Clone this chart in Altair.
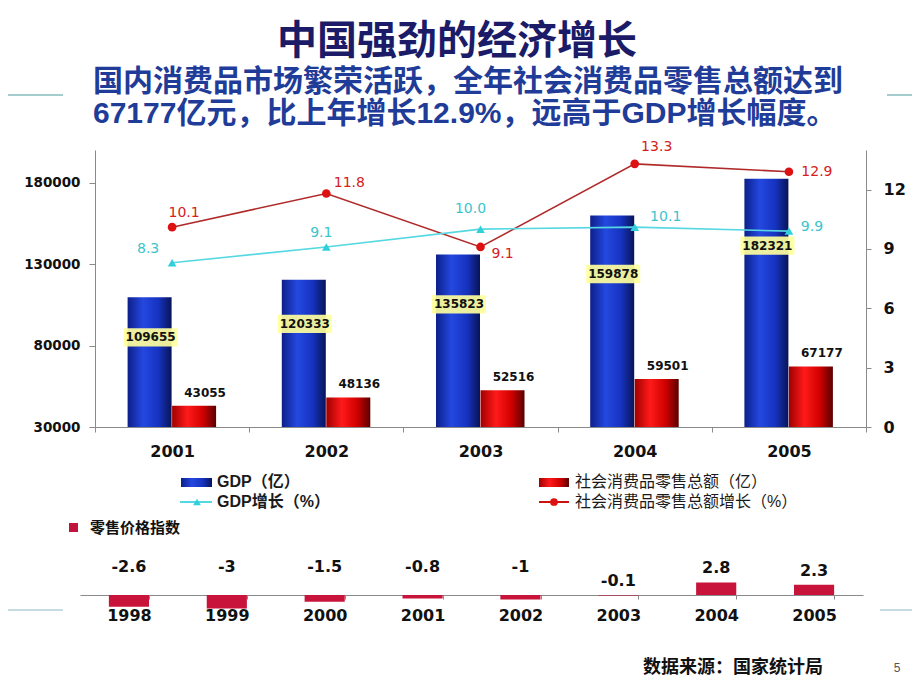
import altair as alt
import pandas as pd

# ---------------- data ----------------
years = ["2001", "2002", "2003", "2004", "2005"]
gdp = [109655, 120333, 135823, 159878, 182321]
retail = [43055, 48136, 52516, 59501, 67177]
gdp_growth = [8.3, 9.1, 10.0, 10.1, 9.9]
retail_growth = [10.1, 11.8, 9.1, 13.3, 12.9]

price_years = ["1998", "1999", "2000", "2001", "2002", "2003", "2004", "2005"]
price_index = [-2.6, -3, -1.5, -0.8, -1, -0.1, 2.8, 2.3]

title_text = "中国强劲的经济增长"
subtitle_lines = [
    "国内消费品市场繁荣活跃，全年社会消费品零售总额达到",
    "67177亿元，比上年增长12.9%，远高于GDP增长幅度。",
]
legend_labels = ["GDP（亿）", "社会消费品零售总额（亿）", "GDP增长（%）", "社会消费品零售总额增长（%）"]
price_label = "零售价格指数"
source_text = "数据来源：国家统计局"
page_no = "5"

# ---------------- tables ----------------
df = pd.DataFrame({
    "year": years, "gdp": gdp, "retail": retail,
    "gdp_g": gdp_growth, "ret_g": retail_growth,
})
df["gdp_lab"] = [str(v) for v in gdp]
df["ret_lab"] = [str(v) for v in retail]
df["gdp_g_lab"] = [f"{v:.1f}" for v in gdp_growth]
df["ret_g_lab"] = [f"{v:.1f}" for v in retail_growth]

pdf = pd.DataFrame({"year": price_years, "v": price_index})
pdf["lab"] = [f"{v:g}" for v in price_index]

one = pd.DataFrame({"k": [0]})

CJK = "Noto Sans CJK SC"
NUM = "DejaVu Sans"
W, H = 904, 672

# ---------------- scales ----------------
X_MAIN = alt.Scale(domain=years, range=[87, 858], paddingInner=0, paddingOuter=0)
Y_GDP = alt.Scale(domain=[30000, 200000], range=[419, 142], nice=False, zero=False)
Y_G = alt.Scale(domain=[0, 14], range=[419, 142], nice=False, zero=False)
X_P = alt.Scale(domain=price_years, range=[72, 855], paddingInner=0.59, paddingOuter=0.295)
Y_P = alt.Scale(domain=[-4, 4], range=[605, 569], nice=False, zero=False)

grad_blue = alt.Gradient(
    gradient="linear", x1=0, x2=1, y1=0, y2=0,
    stops=[alt.GradientStop(color="#0c1f8a", offset=0),
           alt.GradientStop(color="#2448e0", offset=0.35),
           alt.GradientStop(color="#1633c0", offset=0.7),
           alt.GradientStop(color="#081458", offset=1)])
grad_red = alt.Gradient(
    gradient="linear", x1=0, x2=1, y1=0, y2=0,
    stops=[alt.GradientStop(color="#a00000", offset=0),
           alt.GradientStop(color="#ff1a1a", offset=0.35),
           alt.GradientStop(color="#d00000", offset=0.7),
           alt.GradientStop(color="#5a0000", offset=1)])

AX_COMMON = dict(grid=False, title=None, domainColor="#8a8a8a", tickColor="#8a8a8a",
                 labelColor="#111111", labelFont=NUM, labelFontWeight="bold")

x_main_axis = alt.Axis(orient="bottom", offset=-(H - 419), tickBand="extent", tickSize=5,
                       labelPadding=11, labelFontSize=16, labelAngle=0, **AX_COMMON)
left_axis = alt.Axis(orient="left", offset=-87, values=[30000, 80000, 130000, 180000],
                     format="d", tickSize=6, labelPadding=9, labelFontSize=13.5, **AX_COMMON)
right_axis = alt.Axis(orient="right", offset=-(W - 858), values=[0, 3, 6, 9, 12],
                      format="d", tickSize=5, labelPadding=12, labelFontSize=16, **AX_COMMON)
x_p_axis = alt.Axis(orient="bottom", offset=-(H - 587), tickBand="extent", tickSize=4,
                    labelPadding=8, labelFontSize=16, labelAngle=0, **AX_COMMON)

xm = lambda axis=None: alt.X("year:N", scale=X_MAIN, axis=axis)

layers = []

# ---------------- slide decoration lines ----------------
for (x0, x1, yy, col) in [(0, 55, 87, "#4a9a9a"), (879, 904, 87, "#4a9a9a"),
                          (0, 55, 602, "#8fb8cc"), (872, 904, 602, "#8fb8cc")]:
    layers.append(alt.Chart(one).mark_rule(color=col, strokeWidth=1).encode(
        x=alt.value(x0), x2=alt.value(x1), y=alt.value(yy)))

# ---------------- titles ----------------
layers.append(alt.Chart(one).mark_text(
    text=title_text, font=CJK, fontSize=40, fontWeight="bold", color="#1b1b68",
    align="center", baseline="middle").encode(x=alt.value(449), y=alt.value(34)))
layers.append(alt.Chart(one).mark_text(
    text=subtitle_lines, font="Liberation Sans, " + CJK, fontSize=30, fontWeight="bold",
    color="#1f3c98", align="left", baseline="alphabetic", lineHeight=32
).encode(x=alt.value(85), y=alt.value(83)))

# ---------------- main chart ----------------
layers.append(alt.Chart(df).mark_bar(width=44, xOffset=-22.5, fill=grad_blue).encode(
    x=xm(x_main_axis), y=alt.Y("gdp:Q", scale=Y_GDP, axis=left_axis), y2=alt.datum(30000)))
layers.append(alt.Chart(df).mark_bar(width=44, xOffset=22, fill=grad_red).encode(
    x=xm(), y=alt.Y("retail:Q", scale=Y_GDP, axis=None), y2=alt.datum(30000)))

box_path = "M-1,-0.34L1,-0.34L1,0.34L-1,0.34Z"
gdp_lab_base = alt.Chart(df).transform_calculate(laby="datum.gdp * 0.775")
layers.append(gdp_lab_base.mark_point(
    shape=box_path, filled=True, fill="#ffff9c", opacity=0.92, size=2916, strokeWidth=0,
    xOffset=-21.5).encode(x=xm(), y=alt.Y("laby:Q", scale=Y_GDP, axis=None)))
layers.append(gdp_lab_base.mark_text(
    font=NUM, fontWeight="bold", fontSize=12, color="#111111", xOffset=-21.5,
    baseline="middle").encode(x=xm(), y=alt.Y("laby:Q", scale=Y_GDP, axis=None),
                              text="gdp_lab:N"))
layers.append(alt.Chart(df).mark_text(
    font=NUM, fontWeight="bold", fontSize=12, color="#111111", xOffset=33, yOffset=-13,
    baseline="middle").encode(x=xm(), y=alt.Y("retail:Q", scale=Y_GDP, axis=None),
                              text="ret_lab:N"))

# growth lines
layers.append(alt.Chart(df).mark_line(color="#b02a2a", strokeWidth=1.6).encode(
    x=xm(), y=alt.Y("ret_g:Q", scale=Y_G, axis=right_axis)))
layers.append(alt.Chart(df).mark_point(filled=True, shape="circle", size=75, color="#dd1111",
                                       opacity=1).encode(
    x=xm(), y=alt.Y("ret_g:Q", scale=Y_G, axis=None)))
layers.append(alt.Chart(df).mark_line(color="#55d8e2", strokeWidth=1.6).encode(
    x=xm(), y=alt.Y("gdp_g:Q", scale=Y_G, axis=None)))
layers.append(alt.Chart(df).mark_point(filled=True, shape="triangle-up", size=75,
                                       color="#2fd0dc", opacity=1).encode(
    x=xm(), y=alt.Y("gdp_g:Q", scale=Y_G, axis=None)))

red_place = {"2001": (12, -14), "2002": (23, -11), "2003": (22, 7), "2004": (22, -17), "2005": (28, 0)}
cyan_place = {"2001": (-24, -14), "2002": (-5, -14), "2003": (-10, -20), "2004": (31, -10), "2005": (23, -4)}
for yr, (dx, dy) in red_place.items():
    layers.append(alt.Chart(df).transform_filter(f"datum.year == '{yr}'").mark_text(
        font=NUM, fontSize=14, color="#d42020", xOffset=dx, yOffset=dy, baseline="middle"
    ).encode(x=xm(), y=alt.Y("ret_g:Q", scale=Y_G, axis=None), text="ret_g_lab:N"))
for yr, (dx, dy) in cyan_place.items():
    layers.append(alt.Chart(df).transform_filter(f"datum.year == '{yr}'").mark_text(
        font=NUM, fontSize=14, color="#3cc4cc", xOffset=dx, yOffset=dy, baseline="middle"
    ).encode(x=xm(), y=alt.Y("gdp_g:Q", scale=Y_G, axis=None), text="gdp_g_lab:N"))

# ---------------- legend (manual) ----------------
layers.append(alt.Chart(one).mark_rect(fill=grad_blue).encode(
    x=alt.value(173), x2=alt.value(204), y=alt.value(470), y2=alt.value(479)))
layers.append(alt.Chart(one).mark_rect(fill=grad_red).encode(
    x=alt.value(531), x2=alt.value(561), y=alt.value(470), y2=alt.value(479)))
layers.append(alt.Chart(one).mark_rule(color="#55d8e2", strokeWidth=2).encode(
    x=alt.value(172), x2=alt.value(204), y=alt.value(494)))
layers.append(alt.Chart(one).mark_point(filled=True, shape="triangle-up", size=60,
                                        color="#2fd0dc", opacity=1).encode(
    x=alt.value(189), y=alt.value(494)))
layers.append(alt.Chart(one).mark_rule(color="#cc1111", strokeWidth=2).encode(
    x=alt.value(531), x2=alt.value(561), y=alt.value(494)))
layers.append(alt.Chart(one).mark_point(filled=True, shape="circle", size=60,
                                        color="#dd1111", opacity=1).encode(
    x=alt.value(546), y=alt.value(494)))
for (lx, ly), lab, wt in zip([(209, 474), (567, 474), (209, 494), (567, 494)], legend_labels,
                             ["bold", "normal", "bold", "normal"]):
    layers.append(alt.Chart(one).mark_text(
        text=lab, font="Liberation Sans, " + CJK, fontSize=16, fontWeight=wt, color="#1a1a1a",
        align="left", baseline="middle").encode(x=alt.value(lx), y=alt.value(ly)))

# ---------------- retail price index ----------------
layers.append(alt.Chart(one).mark_square(size=81, color="#c0143c", opacity=1).encode(
    x=alt.value(65.5), y=alt.value(519.5)))
layers.append(alt.Chart(one).mark_text(
    text=price_label, font=CJK, fontSize=15, fontWeight="bold", color="#111111",
    align="left", baseline="middle").encode(x=alt.value(82), y=alt.value(520)))

layers.append(alt.Chart(pdf).mark_bar(color="#c8143a").encode(
    x=alt.X("year:N", scale=X_P, axis=x_p_axis),
    y=alt.Y("v:Q", scale=Y_P, axis=None), y2=alt.datum(0)))
layers.append(alt.Chart(pdf).transform_calculate(
    laby="datum.v < -0.5 ? 3.2 : abs(datum.v)").mark_text(
    font=NUM, fontWeight="bold", fontSize=16, color="#111111", yOffset=-14, baseline="middle"
).encode(x=alt.X("year:N", scale=X_P, axis=None),
         y=alt.Y("laby:Q", scale=Y_P, axis=None), text="lab:N"))

# ---------------- footer ----------------
layers.append(alt.Chart(one).mark_text(
    text=source_text, font=CJK, fontSize=18, fontWeight="bold", color="#111111",
    align="left", baseline="middle").encode(x=alt.value(635), y=alt.value(660)))
layers.append(alt.Chart(one).mark_text(
    text=page_no, font="Liberation Sans", fontSize=12, color="#555555",
    align="center", baseline="middle").encode(x=alt.value(889), y=alt.value(660)))

chart = alt.layer(*layers).resolve_scale(x="independent", y="independent").properties(
    width=W, height=H, autosize=alt.AutoSizeParams(type="none"), padding=0,
    background="white"
).configure_view(stroke=None)

chart.save("out.html", embed_options={"renderer": "svg", "actions": False})
